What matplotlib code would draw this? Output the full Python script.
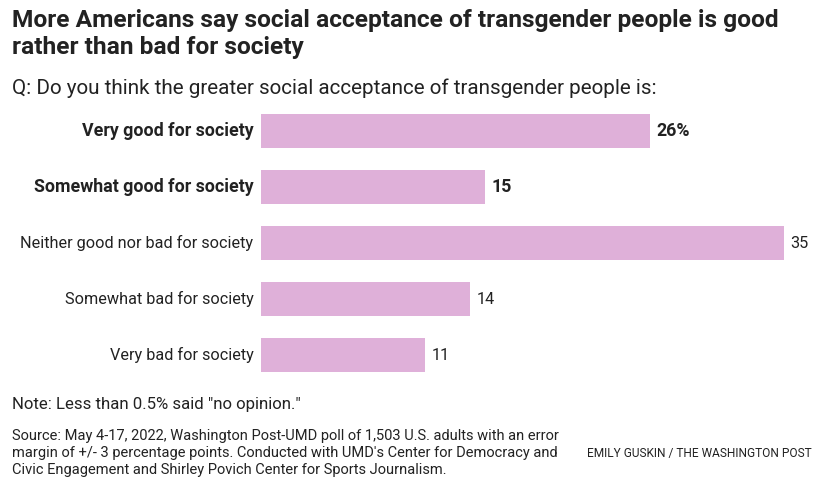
import matplotlib
matplotlib.use('Agg')
from matplotlib import pyplot as plt

categories = ['Very good for society', 'Somewhat good for society',
              'Neither good nor bad for society', 'Somewhat bad for society',
              'Very bad for society']
values = [26, 15, 35, 14, 11]
value_labels = ['26%', '15', '35', '14', '11']
bold_rows = [True, True, False, False, False]

W, H = 829, 486
plt.rcParams['font.family'] = ['Roboto', 'DejaVu Sans']
dark = '#222222'
bar_color = '#dfb0d9'

fig = plt.figure(figsize=(W / 100, H / 100), dpi=100)
fig.patch.set_facecolor('white')
renderer = fig.canvas.get_renderer()

def px(x, y):
    return x / W, 1 - y / H

def fit(t, width):
    # shrink/grow a text so it spans about `width` pixels, like the condensed original
    w = t.get_window_extent(renderer).width
    t.set_fontsize(t.get_fontsize() * width / w)

# axes in pixel coords
left, right, top, bottom = 261, 784, 103, 383
ax = fig.add_axes([left / W, 1 - bottom / H, (right - left) / W, (bottom - top) / H])
ypos = list(range(len(categories)))
ax.barh(ypos, values, height=0.6, color=bar_color)
ax.set_xlim(0, 35)
ax.set_ylim(len(categories) - 0.5, -0.5)
ax.axis('off')

cat_texts, val_texts = [], []
for i, (cat, v, lab, b) in enumerate(zip(categories, values, value_labels, bold_rows)):
    w = 'bold' if b else 'normal'
    cat_texts.append(ax.text(-0.5, i, cat, ha='right', va='center', fontsize=11.5,
                             color=dark, fontweight=w))
    val_texts.append(ax.text(v + 0.45, i, lab, ha='left', va='center', fontsize=11.5,
                             color=dark, fontweight=w))

fit(cat_texts[2], 234)   # regular rows
fit(cat_texts[1], 218)   # bold rows
for t, b in zip(cat_texts + val_texts, bold_rows + bold_rows):
    t.set_fontsize(cat_texts[1 if b else 2].get_fontsize())

t1 = fig.text(*px(12, 21), 'More Americans say social acceptance of transgender people is good',
              fontsize=15, fontweight='bold', color=dark, va='center')
fit(t1, 770)
fig.text(*px(12, 47), 'rather than bad for society',
         fontsize=t1.get_fontsize(), fontweight='bold', color=dark, va='center')
t = fig.text(*px(12, 88), 'Q: Do you think the greater social acceptance of transgender people is:',
             fontsize=13, color=dark, va='center')
fit(t, 645)

t = fig.text(*px(12, 404), 'Note: Less than 0.5% said "no opinion."',
             fontsize=11.5, color=dark, va='center')
fit(t, 290)
src = ['Source: May 4-17, 2022, Washington Post-UMD poll of 1,503 U.S. adults with an error',
       "margin of +/- 3 percentage points. Conducted with UMD's Center for Democracy and",
       'Civic Engagement and Shirley Povich Center for Sports Journalism.']
s0 = fig.text(*px(12, 436), src[0], fontsize=10, color=dark, va='center')
fit(s0, 545)
for k, line in enumerate(src[1:], 1):
    fig.text(*px(12, 436 + 17 * k), line, fontsize=s0.get_fontsize(), color=dark, va='center')
t = fig.text(*px(812, 453), 'EMILY GUSKIN / THE WASHINGTON POST',
             fontsize=8.5, color=dark, va='center', ha='right')
fit(t, 224)

fig.savefig('out.png', dpi=100, facecolor='white')
